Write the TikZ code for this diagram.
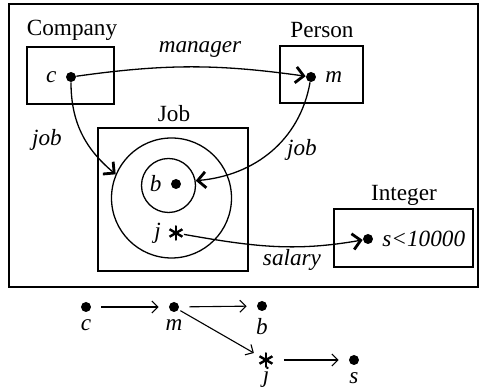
\documentclass[tikz,border=0pt]{standalone}
\usepackage{fontspec}
\setmainfont{Liberation Serif}
\usepackage{tikz}
\usetikzlibrary{arrows.meta}
\tikzset{spot/.style={circle, fill=black, inner sep=0pt, minimum size=5pt},
%asterisk drawn as three crossing strokes
astk/.style={circle, inner sep=0pt, minimum size=7.6pt, path picture={
  \foreach \a in {90,30,150}
     \draw[line width=1.2pt] (path picture bounding box.center) +(\a:3.8pt) -- +(\a+180:3.8pt);}},
cls/.style={draw, line width=0.65pt},
heavy/.style={line width=0.65pt, -{Straight Barb[length=4pt,width=8pt,line width=1.4pt]}},
lite/.style={line width=0.55pt, -{Straight Barb[length=3pt,width=6pt]}, shorten <=5pt, shorten >=5pt},
lbl/.style={font=\fontsize{11.6}{14}\selectfont\itshape}}

\begin{document}
\begin{tikzpicture}[x=0.5pt,y=0.5pt,font=\fontsize{11.6}{14}\selectfont]
\useasboundingbox (0,0) rectangle (479,390);
%\draw [help lines, step=10] (0,0) grid (479,390);
% frame
\draw[line width=0.8pt] (9,103) rectangle (478,386);

% classes
\draw[cls] (27,286) rectangle (114,343);
\draw[cls] (280,287) rectangle (363,344);
\draw[cls] (98,119) rectangle (248,262);
\draw[cls] (334,123) rectangle (473,181);
\node (company) at (72,360) {Company};
\node (person) at (322,360) {Person};
\node (job) at (174,276) {Job};
\node (integer) at (404,195) {Integer};

% sets
\node[circle, draw, line width=0.65pt, minimum size=60pt, inner sep=0pt] (jobset) at (171.5,192) {};
\node[circle, draw, line width=0.65pt, minimum size=27pt, inner sep=0pt] (bset) at (168.5,204.5) {};

% objects
\node[spot, label={[lbl, label distance=1pt]left:c}] (c) at (71,313) {};
\node[spot, label={[lbl, label distance=1pt]right:m}] (m) at (311,313) {};
\node[spot, label={[lbl, label distance=1pt]left:b}] (b) at (176,206) {};
\node[astk, label={[lbl, label distance=0pt]left:j}] (j) at (176,157) {};
\node[spot, label={[lbl, label distance=1pt]right:s<10000}] (s) at (368,151) {};

% attributes
\draw[heavy] (c) to[out=8,in=172] (m);
\draw[heavy] (c) to[out=-90,in=140] (jobset.157);
\draw[heavy] (m) to[out=-100,in=5] (bset.10);
\draw[heavy] (j) to[out=-10,in=190] (s);
\node[lbl] (mgrlbl) at (200,340) {manager};
\node[lbl] (joblbl) at (47,250) {job};
\node[lbl] (joblbr) at (302,240) {job};
\node[lbl] (sallbl) at (292,130) {salary};

% instance graph
\node[spot, label={[lbl, label distance=0pt]below:c}] (c2) at (86,83) {};
\node[spot, label={[lbl, label distance=0pt]below:m}] (m2) at (174,83) {};
\node[spot, label={[lbl, label distance=0pt]below:b}] (b2) at (262,84) {};
\node[astk, label={[lbl, label distance=-4pt]below:j}] (j2) at (266,30) {};
\node[spot, label={[lbl, label distance=0pt]below:s}] (s2) at (354,30) {};

\draw[lite] (c2) -- (m2);
\draw[lite] (m2) -- (b2);
\draw[lite, shorten <=1pt, shorten >=3pt] (m2) -- (j2);
\draw[lite] (j2) -- (s2);

\end{tikzpicture}
\end{document}
